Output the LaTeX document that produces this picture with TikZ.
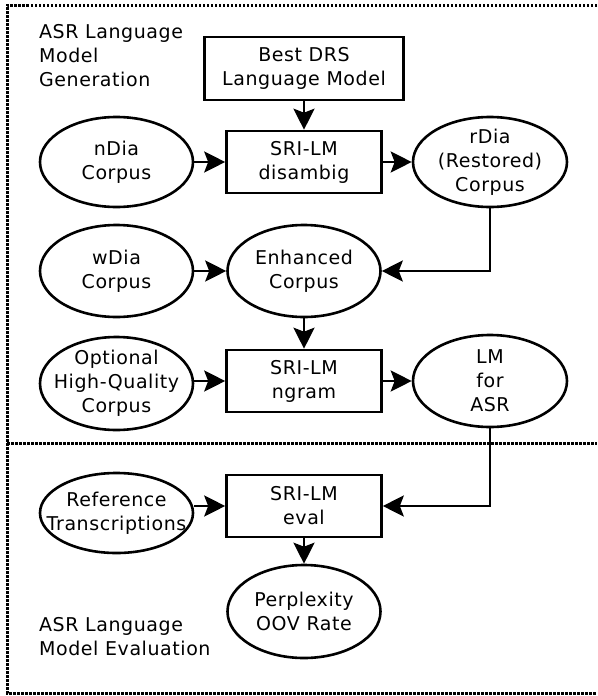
\documentclass[tikz,border=0pt]{standalone}
\usepackage{fontspec}
\setmainfont{DejaVu Sans}[LetterSpace=3.0]
\usetikzlibrary{shapes.geometric, arrows.meta}
\begin{document}
\begin{tikzpicture}[x=1pt, y=-1pt,
  every node/.style={font=\fontsize{19}{24}\selectfont, text=black},
  boxnode/.style={draw, rectangle, line width=2.6pt, minimum width=155pt, minimum height=62pt, inner sep=0pt, align=center},
  ellnode/.style={draw, ellipse, line width=2.6pt, minimum width=153pt, minimum height=92pt, inner sep=0pt},
  lbl/.style={align=center, inner sep=0pt},
  arr/.style={line width=2.6pt, -{Stealth[length=21pt, width=21pt, inset=4pt]}},
  frame/.style={line width=3pt, dash pattern=on 2.5pt off 1.5pt},
  note/.style={align=left, inner sep=0pt, anchor=north west}
]
\useasboundingbox (0,0) rectangle (597,696);
% frame
\draw[frame] (597,5) -- (7,5) -- (7,693) -- (597,693);
\draw[frame] (7,443) -- (597,443);
% notes
\node[note] (gen) at (39,24) {ASR Language\\Model\\Generation};
\node[note] (evl) at (39,617) {ASR Language\\Model Evaluation};
% nodes
\node[boxnode, minimum width=199pt, minimum height=63pt] (best) at (304,68.5) {Best DRS\\Language Model};
\node[boxnode] (dis) at (304,162) {SRI-LM\\disambig};
\node[ellnode, minimum height=90pt, label={[lbl]center:nDia\\Corpus}] (ndia) at (116.5,162) {};
\node[ellnode, minimum width=154pt, minimum height=90pt, label={[lbl]center:rDia\\(Restored)\\Corpus}] (rdia) at (490,162) {};
\node[ellnode, label={[lbl]center:wDia\\Corpus}] (wdia) at (116.5,271) {};
\node[ellnode, label={[lbl]center:Enhanced\\Corpus}] (enh) at (304,271) {};
\node[ellnode, minimum height=93pt, label={[lbl]center:Optional\\High-Quality\\Corpus}] (opt) at (116.5,383.5) {};
\node[boxnode] (ngram) at (304,381) {SRI-LM\\ngram};
\node[ellnode, minimum width=154pt, label={[lbl]center:LM\\for\\ASR}] (lm) at (490,381) {};
\node[ellnode, minimum height=80pt, label={[lbl]center:Reference\\Transcriptions}] (ref) at (116.5,513) {};
\node[boxnode] (eval) at (304,506) {SRI-LM\\eval};
\node[ellnode, minimum height=93pt, label={[lbl]center:Perplexity\\OOV Rate}] (perp) at (304,611.5) {};
% connectors
\draw[arr] (best) -- (dis);
\draw[arr] (ndia) -- (dis);
\draw[arr] (dis) -- (rdia);
\draw[arr] (rdia.south) |- (enh.east);
\draw[arr] (wdia) -- (enh);
\draw[arr] (enh) -- (ngram);
\draw[arr] (opt.east |- ngram.west) -- (ngram.west);
\draw[arr] (ngram) -- (lm);
\draw[arr] (lm.south) |- (eval.east);
\draw[arr] (ref.east |- eval.west) -- (eval.west);
\draw[arr] (eval) -- (perp);
\end{tikzpicture}
\end{document}
